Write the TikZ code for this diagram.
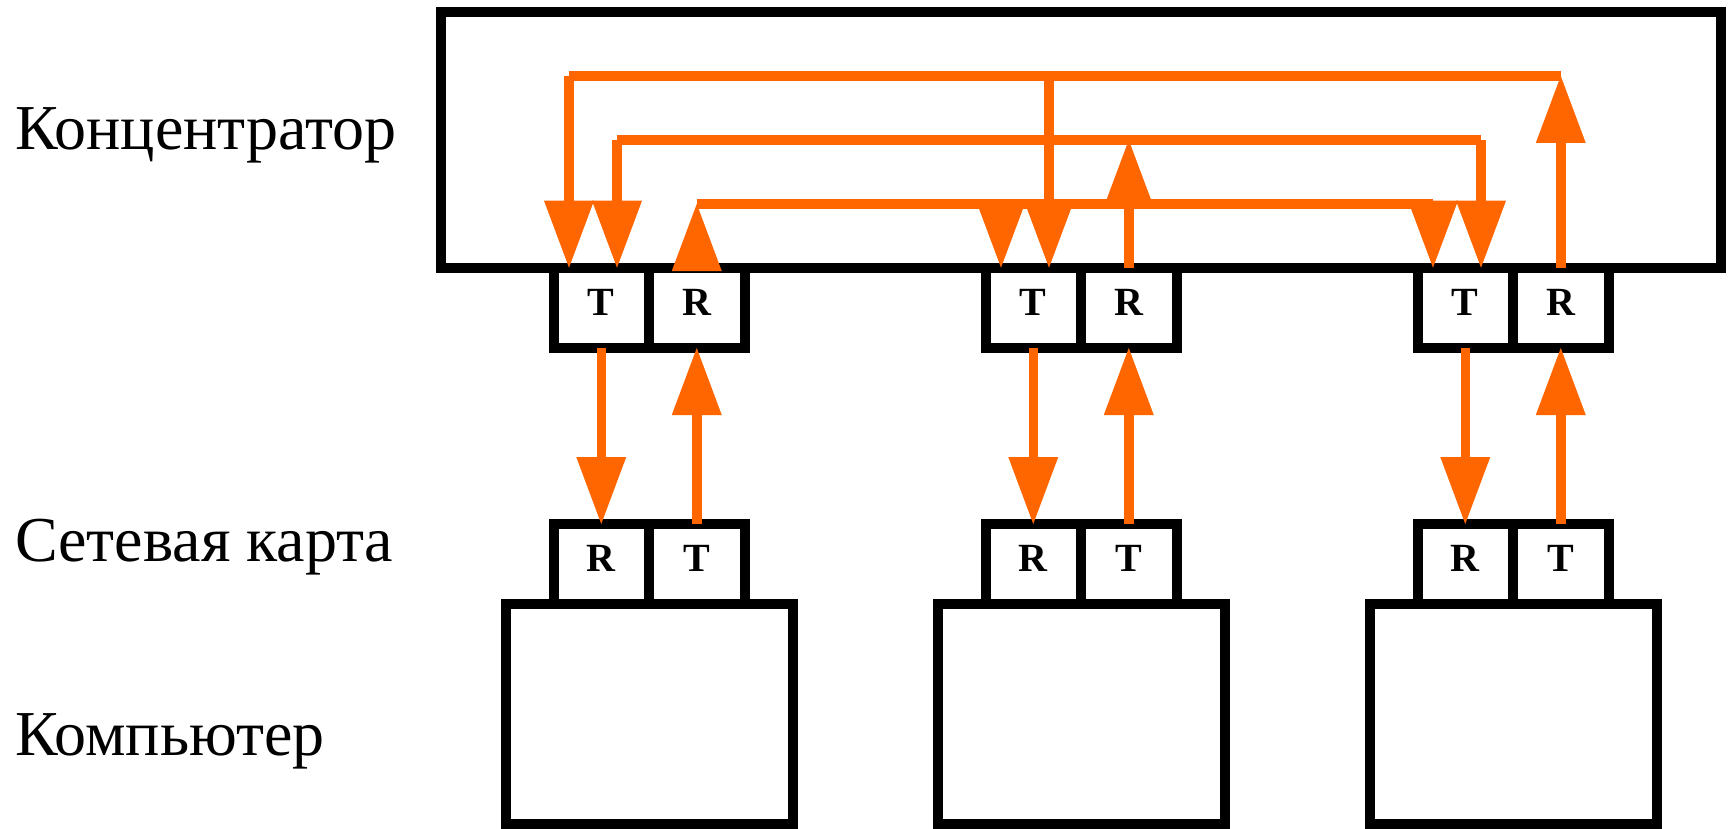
\documentclass[tikz,border=0pt]{standalone}
\usepackage{fontspec}
\setmainfont{Liberation Serif}
\usetikzlibrary{arrows.meta,calc}
\definecolor{wire}{RGB}{255,102,0}
\begin{document}
\begin{tikzpicture}[x=1pt,y=-1pt,
  blk/.style={draw=black,line width=10pt,inner sep=0pt,outer sep=0pt,fill=white},
  portbox/.style={blk,minimum width=95.5pt,minimum height=80.3pt,
    font=\fontsize{40}{48}\selectfont\bfseries,text height=27pt,text depth=11.5pt},
  pcbox/.style={blk,minimum width=287pt,minimum height=220pt},
  lbl/.style={inner sep=0pt,outer sep=0pt,anchor=base west,font=\fontsize{64}{77}\selectfont},
  conn/.style={draw=wire,line width=9.5pt},
  arr/.style={conn,-{Triangle[width=50pt,length=67pt,line width=0pt]}}
]
\useasboundingbox (0,0) rectangle (1728,829);

% hub
\node[blk,minimum width=1280pt,minimum height=256pt] (hub) at (1081,139.7) {};

% groups
\foreach \i/\L in {1/553.5,2/985.5,3/1417.5}{
  \node[pcbox] (pc\i) at (\L+95.5,714) {};
  \node[portbox] (t\i) at (\L+47.75,307.85) {T};
  \node[portbox] (r\i) at (\L+143.25,307.85) {R};
  \node[portbox] (nr\i) at (\L+47.75,564.15) {R};
  \node[portbox] (nt\i) at (\L+143.25,564.15) {T};
  \coordinate (a\i) at ($(t\i.north west)+(15.5,0)$);
  \coordinate (b\i) at ($(t\i.north west)+(63.5,0)$);
}

% side labels
\node[lbl] (lhub) at (15,150) {Концентратор};
\node[lbl] (lnic) at (15,561.7) {Сетевая карта};
\node[lbl] (lpc) at (15,755) {Компьютер};

% bus levels
\coordinate (y1) at (0,76);
\coordinate (y2) at (0,140);
\coordinate (y3) at (0,204);

% links port <-> NIC
\foreach \i in {1,2,3}{
  \draw[arr] (t\i.south) -- (nr\i.north);
  \draw[arr] (nt\i.north) -- (r\i.south);
}

% bus 1 : group 3 R -> group 1 T, group 2 T
\draw[conn] (a1 |- y1) -- (r3.north |- y1);
\draw[arr] (r3.north) -- (r3.north |- y1);
\draw[arr] (a1 |- y1) -- (a1);
\draw[arr] (b2 |- y1) -- (b2);

% bus 2 : group 2 R -> group 1 T, group 3 T
\draw[conn] (b1 |- y2) -- (b3 |- y2);
\draw[arr] (r2.north) -- (r2.north |- y2);
\draw[arr] (b1 |- y2) -- (b1);
\draw[arr] (b3 |- y2) -- (b3);

% bus 3 : group 1 R -> group 2 T, group 3 T
\draw[conn] (r1.north |- y3) -- (a3 |- y3);
\draw[arr] (r1.north) -- (r1.north |- y3);
\draw[arr] (a2 |- y3) -- (a2);
\draw[arr] (a3 |- y3) -- (a3);
\end{tikzpicture}
\end{document}
